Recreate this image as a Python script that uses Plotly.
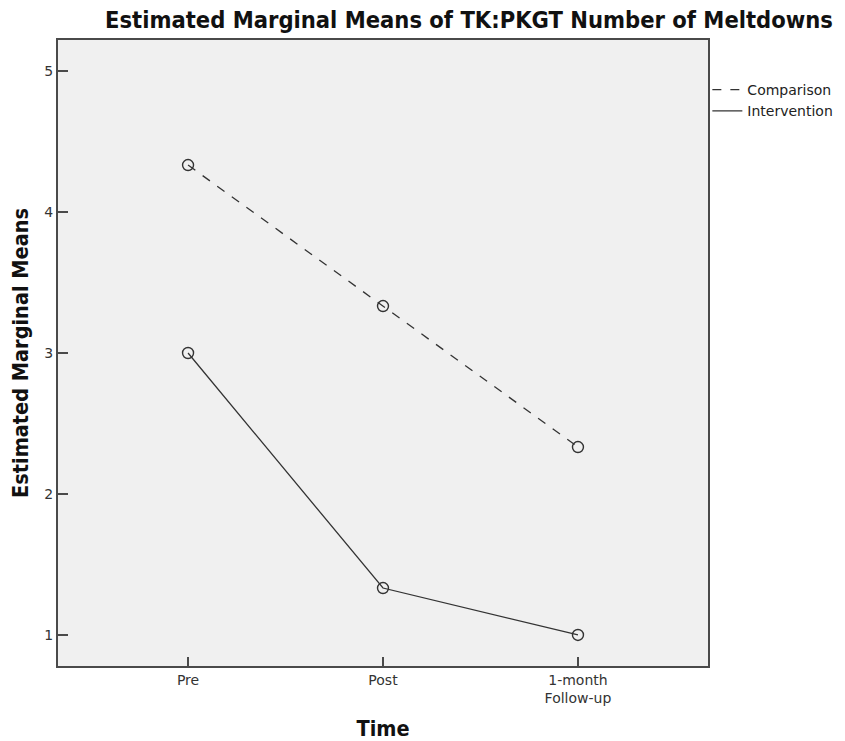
import plotly.graph_objects as go

# Estimated marginal means of meltdown counts by time point and group
time_points = ["Pre", "Post", "1-month<br>Follow-up"]
comparison = [4.333, 3.333, 2.333]
intervention = [3.0, 1.333, 1.0]
y_ticks = [1, 2, 3, 4, 5]

LINE = "#333333"
FRAME = "#4a4a4a"
COND = "Liberation Sans Narrow, DejaVu Sans Condensed, Roboto Condensed, Roboto, sans-serif"
TEXT = "DejaVu Sans, Verdana, sans-serif"

fig = go.Figure()

fig.add_trace(go.Scatter(
    x=time_points, y=comparison, mode="lines+markers",
    line=dict(color=LINE, width=1.3, dash="dash"),
    marker=dict(symbol="circle-open", size=11, color=LINE, line=dict(width=1.4, color=LINE)),
    showlegend=False,
))
fig.add_trace(go.Scatter(
    x=time_points, y=intervention, mode="lines+markers",
    line=dict(color=LINE, width=1.3),
    marker=dict(symbol="circle-open", size=11, color=LINE, line=dict(width=1.4, color=LINE)),
    showlegend=False,
))

# line-only legend entries
fig.add_trace(go.Scatter(x=[None], y=[None], mode="lines", name="Comparison",
                         line=dict(color=LINE, width=1.3, dash="dash")))
fig.add_trace(go.Scatter(x=[None], y=[None], mode="lines", name="Intervention",
                         line=dict(color=LINE, width=1.3)))

fig.update_layout(
    width=845, height=741,
    margin=dict(l=58, r=137, t=40, b=75, autoexpand=False),
    paper_bgcolor="white",
    plot_bgcolor="#f0f0f0",
    title=dict(
        text="<b>Estimated Marginal Means of TK:PKGT Number of Meltdowns</b>",
        font=dict(family=COND, size=23.5, color="#111111"),
        x=469 / 845, xanchor="center", xref="container",
        y=1 - 20 / 741, yanchor="middle", yref="container",
    ),
    legend=dict(
        x=0.999, xanchor="left", y=1 - 34 / 626, yanchor="top",
        font=dict(family=TEXT, size=14, color="#222222"),
        bgcolor="rgba(0,0,0,0)", itemwidth=30, tracegroupgap=0,
    ),
    showlegend=True,
)

fig.update_xaxes(
    type="category",
    range=[-0.667, 2.667],
    automargin=False,
    showgrid=False, zeroline=False,
    showline=True, linecolor=FRAME, linewidth=2, mirror=True,
    ticks="inside", ticklen=9, tickwidth=1.5, tickcolor=FRAME,
    tickfont=dict(family=TEXT, size=14, color="#333333"),
    title=dict(text="<b>Time</b>", font=dict(family=COND, size=21.5, color="#111111"), standoff=26),
)
fig.update_yaxes(
    range=[0.78, 5.22],
    tickvals=y_ticks,
    automargin=False,
    showgrid=False, zeroline=False,
    showline=True, linecolor=FRAME, linewidth=2, mirror=True,
    ticks="inside", ticklen=10, tickwidth=1.5, tickcolor=FRAME,
    tickfont=dict(family=TEXT, size=14, color="#333333"),
    title=dict(text="<b>Estimated Marginal Means</b>", font=dict(family=COND, size=21.5, color="#111111"), standoff=10),
)

fig.write_html("out.html")
